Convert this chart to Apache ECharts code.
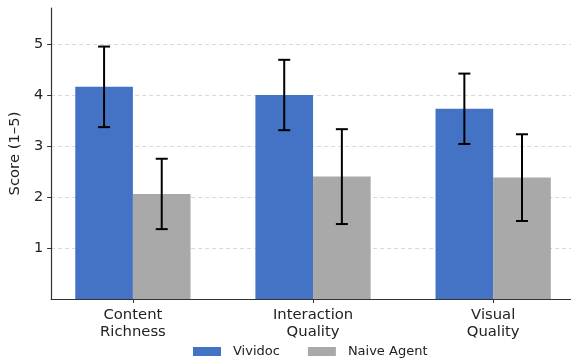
<!DOCTYPE html>
<html>
<head>
<meta charset="utf-8">
<script src="https://cdn.jsdelivr.net/npm/echarts@6/dist/echarts.min.js"></script>
<style>html,body{margin:0;padding:0;background:#fff}#c{width:571px;height:363px}</style>
</head>
<body>
<div id="c"></div>
<script>
var categories = ['Content\nRichness', 'Interaction\nQuality', 'Visual\nQuality'];
var seriesNames = ['Vividoc', 'Naive Agent'];
var vividocMean = [4.16, 4.00, 3.73];
var vividocErr = [0.79, 0.69, 0.69];
var naiveMean = [2.06, 2.40, 2.38];
var naiveErr = [0.69, 0.93, 0.85];
var yTicks = [1, 2, 3, 4, 5];

var BAR_W = 0.32;
function makeData(mean, err) {
  return mean.map(function (m, i) { return [i, m, err[i]]; });
}
function renderer(offset, color) {
  return function (params, api) {
    var x = api.value(0), y = api.value(1), e = api.value(2);
    var p0 = api.coord([x + offset - BAR_W / 2, y]);
    var p1 = api.coord([x + offset + BAR_W / 2, 0]);
    var cx = api.coord([x + offset, 0])[0];
    var top = api.coord([x, y + e])[1];
    var bot = api.coord([x, y - e])[1];
    var cap = 6;
    var ls = { stroke: '#000', lineWidth: 2 };
    return {
      type: 'group',
      children: [
        { type: 'rect', shape: { x: p0[0], y: p0[1], width: p1[0] - p0[0], height: p1[1] - p0[1] }, style: { fill: color } },
        { type: 'line', shape: { x1: cx, y1: top, x2: cx, y2: bot }, style: ls, z2: 10 },
        { type: 'line', shape: { x1: cx - cap, y1: top, x2: cx + cap, y2: top }, style: ls, z2: 10 },
        { type: 'line', shape: { x1: cx - cap, y1: bot, x2: cx + cap, y2: bot }, style: ls, z2: 10 }
      ]
    };
  };
}

var chart = echarts.init(document.getElementById('c'), null, { renderer: 'canvas' });
var txt = '#222';
chart.setOption({
  animation: false,
  textStyle: { fontFamily: 'DejaVu Sans' },
  grid: { left: 50, right: 0, top: 8, bottom: 64, containLabel: false },
  legend: {
    data: seriesNames,
    top: 345,
    left: 193,
    padding: 0,
    itemWidth: 28,
    itemHeight: 9,
    itemGap: 28,
    icon: 'rect',
    textStyle: { fontSize: 13, color: txt, fontFamily: 'DejaVu Sans', padding: [0, 0, 0, 7] }
  },
  xAxis: {
    type: 'value',
    min: -0.454,
    max: 2.432,
    splitLine: { show: false },
    axisLine: { show: true, onZero: false, lineStyle: { color: '#333', width: 1.2 } },
    axisTick: { show: true, customValues: [0, 1, 2], length: 4, lineStyle: { color: '#333' } },
    axisLabel: {
      customValues: [0, 1, 2],
      formatter: function (v) { return categories[Math.round(v)]; },
      fontSize: 14.8, color: txt, lineHeight: 17, margin: 8
    }
  },
  yAxis: {
    type: 'value',
    min: 0,
    max: 5.706,
    interval: 1,
    name: 'Score (1–5)',
    nameLocation: 'middle',
    nameGap: 22,
    nameTextStyle: { fontSize: 14.8, color: txt },
    axisLine: { show: true, onZero: false, lineStyle: { color: '#333', width: 1.2 } },
    axisTick: { show: true, customValues: yTicks, length: 4, lineStyle: { color: '#333' } },
    axisLabel: {
      customValues: yTicks,
      fontSize: 14.5, color: txt, margin: 8
    },
    splitLine: { show: true, lineStyle: { color: '#d9d9d9', type: [4, 3], width: 1 } }
  },
  series: [
    { name: seriesNames[0], type: 'custom', itemStyle: { color: '#4472C4' }, renderItem: renderer(-0.16, '#4472C4'), data: makeData(vividocMean, vividocErr) },
    { name: seriesNames[1], type: 'custom', itemStyle: { color: '#A9A9A9' }, renderItem: renderer(0.16, '#A9A9A9'), data: makeData(naiveMean, naiveErr) }
  ]
});
</script>
</body>
</html>
